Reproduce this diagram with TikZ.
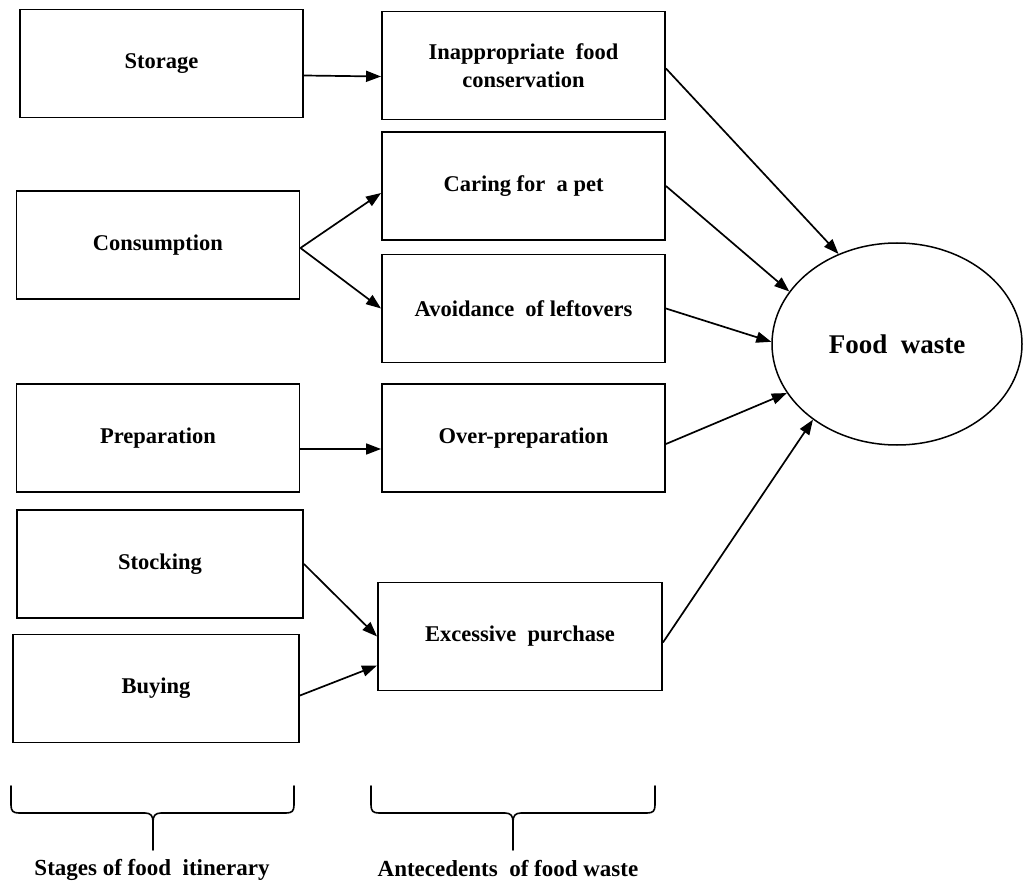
\documentclass[tikz,border=0pt]{standalone}
\usepackage{fontspec}
\setmainfont{Liberation Serif}
\usetikzlibrary{arrows.meta,shapes.geometric}
\begin{document}
\begin{tikzpicture}[x=1pt,y=-1pt,
  box/.style={draw, line width=1.9pt, minimum width=283pt, minimum height=108pt,
    inner sep=0pt, align=center, font=\fontsize{22.5}{28}\selectfont\bfseries},
  goal/.style={draw, ellipse, line width=1.5pt, minimum width=250pt, minimum height=202pt,
    inner sep=0pt, font=\fontsize{27}{32}\selectfont\bfseries},
  arr/.style={line width=1.7pt, -{Triangle[length=15pt,width=11pt]}},
  bracestyle/.style={line width=1.6pt, line cap=round, line join=round},
  caption/.style={font=\fontsize{23}{27}\selectfont\bfseries}]
\useasboundingbox (0,0) rectangle (1023,885);
% stages
\node[box] (storage) at (161.5,63.5) {Storage};
\node[box] (consumption) at (158,245) {Consumption};
\node[box] (preparation) at (158,438) {Preparation};
\node[box, minimum width=286pt] (stocking) at (160,564) {Stocking};
\node[box, minimum width=286pt] (buying) at (156,688.5) {Buying};
% antecedents
\node[box] (inapp) at (523.5,65.5) {Inappropriate\ \ food\\conservation};
\node[box] (caring) at (523.5,186) {Caring for\ \ a pet};
\node[box] (avoid) at (523.5,308.5) {Avoidance\ \ of leftovers};
\node[box] (overprep) at (523.5,438) {Over-preparation};
\node[box, minimum width=284pt] (excess) at (520,636.5) {Excessive\ \ purchase};
% outcome
\node[goal] (fw) at (897,344) {Food\ \ waste};
% connectors
\draw[arr] ([yshift=-12pt]storage.east) -- ([yshift=-11pt]inapp.west);
\draw[arr] ([yshift=-3pt]consumption.east) -- ([yshift=-7pt]caring.west);
\draw[arr] ([yshift=-3pt]consumption.east) -- (avoid.west);
\draw[arr] ([yshift=-11pt]preparation.east) -- ([yshift=-11pt]overprep.west);
\draw[arr] (stocking.east) -- (excess.west);
\draw[arr] ([yshift=-7pt]buying.east) -- ([yshift=-29pt]excess.west);
\draw[arr] ([yshift=-3pt]inapp.east) -- (fw.123.5);
\draw[arr] (caring.east) -- (fw.154);
\draw[arr] (avoid.east) -- (fw.179);
\draw[arr] ([yshift=-6pt]overprep.east) -- (fw.204.5);
\draw[arr] ([yshift=-6pt]excess.east) -- (fw.222);
% braces
\draw[bracestyle] (11,786) -- (11,805) .. controls (11,811) and (13,813) .. (19,813) -- (145,813)
  .. controls (151,813) and (153,816) .. (153,822) -- (153,850);
\draw[bracestyle] (294,786) -- (294,805) .. controls (294,811) and (292,813) .. (286,813) -- (161,813)
  .. controls (155,813) and (153,816) .. (153,822);
\draw[bracestyle] (371,786) -- (371,805) .. controls (371,811) and (373,813) .. (379,813) -- (505,813)
  .. controls (511,813) and (513,816) .. (513,822) -- (513,850);
\draw[bracestyle] (655,786) -- (655,805) .. controls (655,811) and (653,813) .. (647,813) -- (521,813)
  .. controls (515,813) and (513,816) .. (513,822);
\node[caption] (lblstages) at (152,870) {Stages of food\ \ itinerary};
\node[caption] (lblante) at (508,869) {Antecedents\ \ of food waste};
\end{tikzpicture}
\end{document}
